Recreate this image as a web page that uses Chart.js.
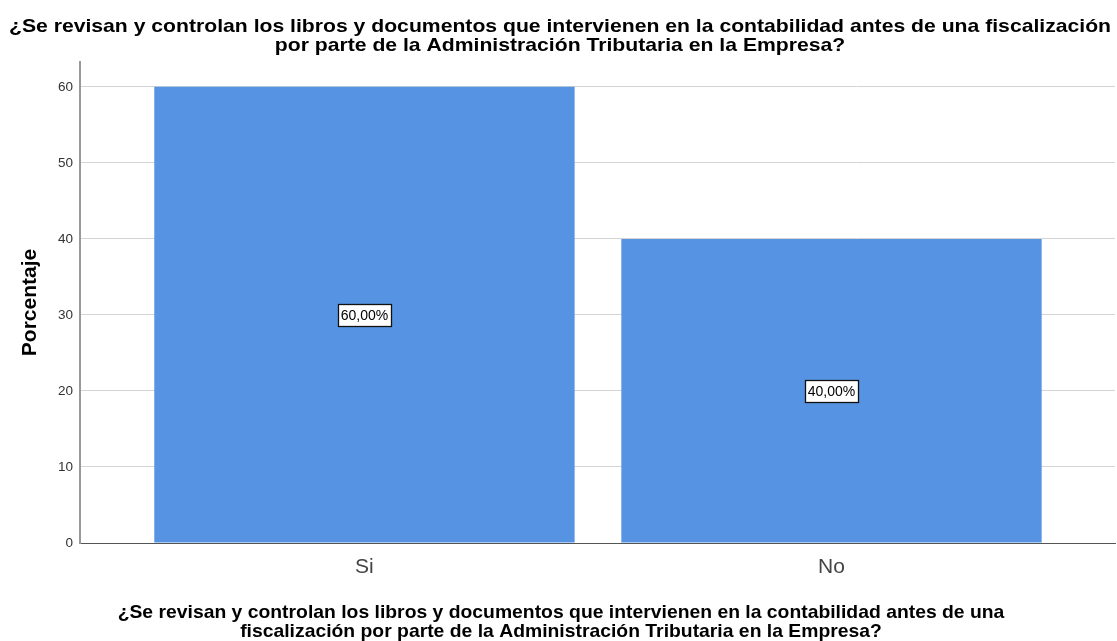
<!DOCTYPE html>
<html>
<head>
<meta charset="utf-8">
<script src="https://cdn.jsdelivr.net/npm/chart.js@4"></script>
<style>
  html, body { margin: 0; padding: 0; background: #fff; }
  #wrap { width: 1117px; height: 641px; position: relative; }
</style>
</head>
<body>
<div id="wrap"><canvas id="chart"></canvas></div>
<script>
const categories = ["Si", "No"];
const percentages = [60, 40];
const yTicks = [0, 10, 20, 30, 40, 50, 60];
const titleLines = [
    "¿Se revisan y controlan los libros y documentos que intervienen en la contabilidad antes de una fiscalización",
    "por parte de la Administración Tributaria en la Empresa?",
];
const xTitleLines = [
    "¿Se revisan y controlan los libros y documentos que intervienen en la contabilidad antes de una",
    "fiscalización por parte de la Administración Tributaria en la Empresa?",
];

const fontFamily = "'Liberation Sans', Arial, sans-serif";

// the bold titles in the reference use a wide face, so draw them slightly stretched
const drawStretched = (ctx, lines, cx, firstBaseline, gap, size, stretch) => {
    ctx.save();
    ctx.font = `bold ${size}px ${fontFamily}`;
    ctx.fillStyle = "#000";
    ctx.textAlign = "center";
    ctx.textBaseline = "alphabetic";
    ctx.translate(cx, 0);
    ctx.scale(stretch, 1);
    lines.forEach((line, i) => ctx.fillText(line, 0, firstBaseline + i * gap));
    ctx.restore();
};

const titles = {
    id: "titles",
    afterDraw(chart) {
        const ctx = chart.ctx;
        drawStretched(ctx, titleLines, 560, 31.5, 19, 19, 1.114);
        drawStretched(ctx, xTitleLines, 561, 618, 18.5, 19, 1.018);
    },
};

// boxed value labels in the middle of each bar
const boxLabels = {
    id: "boxLabels",
    afterDatasetsDraw(chart) {
        const ctx = chart.ctx;
        const meta = chart.getDatasetMeta(0);
        const yScale = chart.scales.y;
        ctx.save();
        ctx.font = "14px " + fontFamily;
        ctx.textAlign = "center";
        ctx.textBaseline = "middle";
        meta.data.forEach((bar, i) => {
            const value = percentages[i];
            const text = value.toFixed(2).replace(".", ",") + "%";
            const cx = bar.x;
            const cy = yScale.getPixelForValue(value / 2);
            const w = Math.round(ctx.measureText(text).width + 6);
            const h = 22;
            const left = Math.round(cx - w / 2);
            const top = Math.round(cy - h / 2);
            ctx.fillStyle = "#fff";
            ctx.fillRect(left, top, w, h);
            ctx.strokeStyle = "#111";
            ctx.lineWidth = 1.3;
            ctx.strokeRect(left + 0.5, top + 0.5, w, h);
            ctx.fillStyle = "#000";
            ctx.fillText(text, cx, cy + 1.5);
        });
        ctx.restore();
    },
};

const ctx = document.getElementById("chart").getContext("2d");
new Chart(ctx, {
    type: "bar",
    data: {
        datasets: [
            {
                label: "Porcentaje",
                data: percentages.map((v, i) => ({ x: i, y: v })),
                backgroundColor: "#5694e3",
                borderWidth: 0,
                barPercentage: 0.9,
                categoryPercentage: 1,
            },
        ],
    },
    options: {
        responsive: true,
        maintainAspectRatio: false,
        animation: false,
        layout: {
            padding: { top: 62, right: 2, left: 2, bottom: 49 },
        },
        plugins: {
            legend: { display: false },
            tooltip: { enabled: false },
            title: { display: false },
        },
        scales: {
            x: {
                type: "linear",
                offset: false,
                min: -0.609,
                max: 1.607,
                afterBuildTicks: (axis) => {
                    axis.ticks = categories.map((c, i) => ({ value: i }));
                },
                grid: { display: false, drawTicks: false, offset: false },
                border: { color: "#555", width: 1 },
                ticks: {
                    color: "#444",
                    font: { family: fontFamily, size: 21, lineHeight: 1 },
                    padding: 14,
                    callback: (value) => categories[value],
                },
            },
            y: {
                min: 0,
                max: 63.27,
                afterBuildTicks: (axis) => {
                    axis.ticks = yTicks.map((v) => ({ value: v }));
                },
                grid: { color: "#d4d4d4", lineWidth: 1, drawTicks: false },
                border: { color: "#999", width: 2 },
                ticks: {
                    color: "#333",
                    font: { family: fontFamily, size: 13.5 },
                    padding: 7,
                },
                title: {
                    display: true,
                    text: "Porcentaje",
                    color: "#000",
                    font: { family: fontFamily, size: 21, weight: "bold", lineHeight: 1 },
                    padding: { top: 18, bottom: 10 },
                },
            },
        },
    },
    plugins: [boxLabels, titles],
});
</script>
</body>
</html>
